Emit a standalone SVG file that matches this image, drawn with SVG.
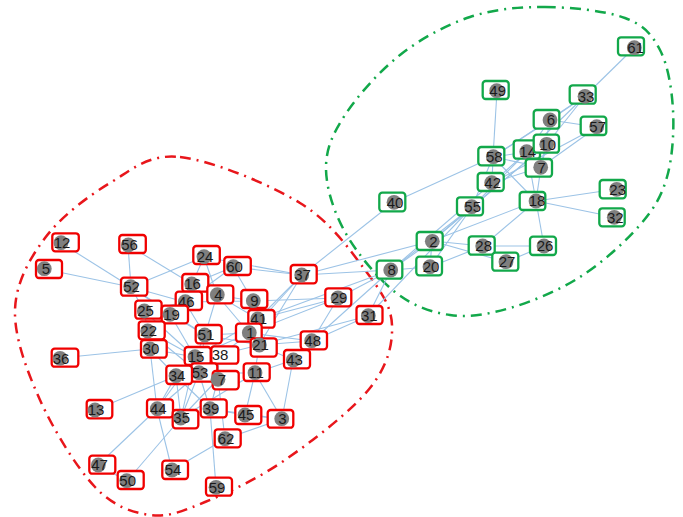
<svg xmlns="http://www.w3.org/2000/svg" width="683" height="517" viewBox="0 0 683 517">
<style>
.e line{stroke:#9cc3e6;stroke-width:1.1;}
.r rect{fill:#fff;stroke:#f00000;stroke-width:2.3;}
.g rect{fill:#fff;stroke:#12a84a;stroke-width:2.3;}
circle{fill:#7f7f7f;}
text{font-family:"Liberation Sans",Arial,sans-serif;font-size:15px;fill:#1a1a1a;text-anchor:middle;}
.hull{fill:none;stroke-width:2.5;stroke-dasharray:11 6 2 6;}
</style>
<rect width="683" height="517" fill="#fff"/>
<path class="hull" stroke="#e8161b" d="M180,157 C211.7,160.3 269.2,184.2 300,203 C330.8,221.8 349.7,249.7 365,270 C380.3,290.3 391.2,305.3 392,325 C392.8,344.7 387.8,365.5 370,388 C352.2,410.5 312.5,441 285,460 C257.5,479 227.5,492.8 205,502 C182.5,511.2 168.3,517.5 150,515 C131.7,512.5 113.3,506.2 95,487 C76.7,467.8 53.3,429.5 40,400 C26.7,370.5 14.2,337 15,310 C15.8,283 29.2,259.2 45,238 C60.8,216.8 87.5,196.5 110,183 C132.5,169.5 148.3,153.7 180,157 Z"/>
<path class="hull" stroke="#12a84a" d="M545,7 C570.8,7.2 605.8,10.8 625,18 C644.2,25.2 652,34.7 660,50 C668,65.3 671.8,88.8 673,110 C674.2,131.2 672.5,157.8 667,177 C661.5,196.2 654.5,208.3 640,225 C625.5,241.7 601.7,263.2 580,277 C558.3,290.8 531.7,301.7 510,308 C488.3,314.3 469.2,317.7 450,315 C430.8,312.3 412.5,305.8 395,292 C377.5,278.2 356.5,252.7 345,232 C333.5,211.3 326,187.5 326,168 C326,148.5 332.7,133.8 345,115 C357.3,96.2 379.2,71.3 400,55 C420.8,38.7 445.8,25 470,17 C494.2,9 519.2,6.8 545,7 Z"/>
<g id="edges" class="e">
<line x1="634" y1="48" x2="585" y2="96"/>
<line x1="585" y1="96" x2="550" y2="120"/>
<line x1="585" y1="96" x2="527" y2="152"/>
<line x1="585" y1="96" x2="493" y2="157"/>
<line x1="585" y1="96" x2="547" y2="144"/>
<line x1="550" y1="120" x2="597" y2="127"/>
<line x1="550" y1="120" x2="527" y2="152"/>
<line x1="550" y1="120" x2="493" y2="157"/>
<line x1="550" y1="120" x2="541" y2="167"/>
<line x1="597" y1="127" x2="541" y2="167"/>
<line x1="597" y1="127" x2="492" y2="183"/>
<line x1="497" y1="91" x2="493" y2="157"/>
<line x1="394" y1="202" x2="493" y2="157"/>
<line x1="394" y1="202" x2="302" y2="275"/>
<line x1="493" y1="157" x2="527" y2="152"/>
<line x1="493" y1="157" x2="541" y2="167"/>
<line x1="493" y1="157" x2="536" y2="201"/>
<line x1="493" y1="157" x2="492" y2="183"/>
<line x1="493" y1="157" x2="472" y2="207"/>
<line x1="527" y1="152" x2="547" y2="144"/>
<line x1="527" y1="152" x2="541" y2="167"/>
<line x1="527" y1="152" x2="536" y2="201"/>
<line x1="527" y1="152" x2="492" y2="183"/>
<line x1="527" y1="152" x2="472" y2="207"/>
<line x1="547" y1="144" x2="541" y2="167"/>
<line x1="547" y1="144" x2="472" y2="207"/>
<line x1="547" y1="144" x2="432" y2="241"/>
<line x1="541" y1="167" x2="536" y2="201"/>
<line x1="541" y1="167" x2="492" y2="183"/>
<line x1="536" y1="201" x2="617" y2="189"/>
<line x1="536" y1="201" x2="614" y2="217"/>
<line x1="536" y1="201" x2="544" y2="246"/>
<line x1="536" y1="201" x2="483" y2="246"/>
<line x1="536" y1="201" x2="432" y2="241"/>
<line x1="432" y1="241" x2="483" y2="246"/>
<line x1="432" y1="241" x2="506" y2="262"/>
<line x1="432" y1="241" x2="472" y2="207"/>
<line x1="432" y1="241" x2="430" y2="267"/>
<line x1="432" y1="241" x2="391" y2="270"/>
<line x1="432" y1="241" x2="302" y2="275"/>
<line x1="483" y1="246" x2="544" y2="246"/>
<line x1="483" y1="246" x2="506" y2="262"/>
<line x1="506" y1="262" x2="544" y2="246"/>
<line x1="430" y1="267" x2="483" y2="246"/>
<line x1="430" y1="267" x2="391" y2="270"/>
<line x1="430" y1="267" x2="472" y2="207"/>
<line x1="391" y1="270" x2="472" y2="207"/>
<line x1="391" y1="270" x2="492" y2="183"/>
<line x1="391" y1="270" x2="302" y2="275"/>
<line x1="391" y1="270" x2="338" y2="298"/>
<line x1="391" y1="270" x2="368" y2="316"/>
<line x1="391" y1="270" x2="312" y2="341"/>
<line x1="391" y1="270" x2="258" y2="319"/>
<line x1="472" y1="207" x2="368" y2="316"/>
<line x1="61" y1="243" x2="131" y2="287"/>
<line x1="44" y1="269" x2="131" y2="287"/>
<line x1="128" y1="245" x2="131" y2="287"/>
<line x1="128" y1="245" x2="192" y2="284"/>
<line x1="131" y1="287" x2="204" y2="257"/>
<line x1="131" y1="287" x2="185" y2="302"/>
<line x1="131" y1="287" x2="170" y2="314"/>
<line x1="131" y1="287" x2="144" y2="311"/>
<line x1="131" y1="287" x2="205" y2="335"/>
<line x1="204" y1="257" x2="192" y2="284"/>
<line x1="204" y1="257" x2="217" y2="295"/>
<line x1="204" y1="257" x2="302" y2="275"/>
<line x1="233" y1="267" x2="302" y2="275"/>
<line x1="233" y1="267" x2="192" y2="284"/>
<line x1="233" y1="267" x2="185" y2="302"/>
<line x1="233" y1="267" x2="253" y2="301"/>
<line x1="192" y1="284" x2="185" y2="302"/>
<line x1="192" y1="284" x2="170" y2="314"/>
<line x1="185" y1="302" x2="253" y2="301"/>
<line x1="185" y1="302" x2="170" y2="314"/>
<line x1="185" y1="302" x2="144" y2="311"/>
<line x1="185" y1="302" x2="205" y2="335"/>
<line x1="217" y1="295" x2="253" y2="301"/>
<line x1="217" y1="295" x2="205" y2="335"/>
<line x1="217" y1="295" x2="249" y2="333"/>
<line x1="217" y1="295" x2="258" y2="319"/>
<line x1="253" y1="301" x2="258" y2="319"/>
<line x1="253" y1="301" x2="338" y2="298"/>
<line x1="258" y1="319" x2="302" y2="275"/>
<line x1="258" y1="319" x2="338" y2="298"/>
<line x1="258" y1="319" x2="249" y2="333"/>
<line x1="258" y1="319" x2="195" y2="357"/>
<line x1="249" y1="333" x2="302" y2="275"/>
<line x1="249" y1="333" x2="259" y2="345"/>
<line x1="249" y1="333" x2="312" y2="341"/>
<line x1="249" y1="333" x2="338" y2="298"/>
<line x1="249" y1="333" x2="205" y2="335"/>
<line x1="249" y1="333" x2="195" y2="357"/>
<line x1="249" y1="333" x2="199" y2="373"/>
<line x1="259" y1="345" x2="302" y2="275"/>
<line x1="259" y1="345" x2="312" y2="341"/>
<line x1="259" y1="345" x2="293" y2="360"/>
<line x1="259" y1="345" x2="255" y2="373"/>
<line x1="259" y1="345" x2="368" y2="316"/>
<line x1="259" y1="345" x2="205" y2="335"/>
<line x1="259" y1="345" x2="219" y2="355"/>
<line x1="312" y1="341" x2="338" y2="298"/>
<line x1="312" y1="341" x2="368" y2="316"/>
<line x1="312" y1="341" x2="293" y2="360"/>
<line x1="293" y1="360" x2="255" y2="373"/>
<line x1="293" y1="360" x2="282" y2="419"/>
<line x1="255" y1="373" x2="282" y2="419"/>
<line x1="255" y1="373" x2="245" y2="415"/>
<line x1="255" y1="373" x2="199" y2="373"/>
<line x1="255" y1="373" x2="181" y2="418"/>
<line x1="170" y1="314" x2="205" y2="335"/>
<line x1="170" y1="314" x2="148" y2="331"/>
<line x1="170" y1="314" x2="150" y2="349"/>
<line x1="170" y1="314" x2="195" y2="357"/>
<line x1="144" y1="311" x2="148" y2="331"/>
<line x1="144" y1="311" x2="195" y2="357"/>
<line x1="148" y1="331" x2="150" y2="349"/>
<line x1="148" y1="331" x2="195" y2="357"/>
<line x1="148" y1="331" x2="199" y2="373"/>
<line x1="150" y1="349" x2="60" y2="358"/>
<line x1="150" y1="349" x2="157" y2="409"/>
<line x1="150" y1="349" x2="195" y2="357"/>
<line x1="150" y1="349" x2="176" y2="376"/>
<line x1="205" y1="335" x2="195" y2="357"/>
<line x1="205" y1="335" x2="199" y2="373"/>
<line x1="195" y1="357" x2="176" y2="376"/>
<line x1="195" y1="357" x2="199" y2="373"/>
<line x1="195" y1="357" x2="181" y2="418"/>
<line x1="195" y1="357" x2="157" y2="409"/>
<line x1="219" y1="355" x2="199" y2="373"/>
<line x1="219" y1="355" x2="218" y2="379"/>
<line x1="176" y1="376" x2="95" y2="410"/>
<line x1="176" y1="376" x2="157" y2="409"/>
<line x1="176" y1="376" x2="181" y2="418"/>
<line x1="176" y1="376" x2="210" y2="409"/>
<line x1="199" y1="373" x2="181" y2="418"/>
<line x1="199" y1="373" x2="210" y2="409"/>
<line x1="199" y1="373" x2="218" y2="379"/>
<line x1="199" y1="373" x2="157" y2="409"/>
<line x1="218" y1="379" x2="210" y2="409"/>
<line x1="218" y1="379" x2="225" y2="439"/>
<line x1="218" y1="379" x2="181" y2="418"/>
<line x1="157" y1="409" x2="98" y2="465"/>
<line x1="157" y1="409" x2="172" y2="470"/>
<line x1="157" y1="409" x2="181" y2="418"/>
<line x1="181" y1="418" x2="127" y2="481"/>
<line x1="181" y1="418" x2="210" y2="409"/>
<line x1="210" y1="409" x2="245" y2="415"/>
<line x1="210" y1="409" x2="282" y2="419"/>
<line x1="210" y1="409" x2="216" y2="487"/>
<line x1="225" y1="439" x2="172" y2="470"/>
<line x1="225" y1="439" x2="282" y2="419"/>
<line x1="245" y1="415" x2="282" y2="419"/>
<line x1="98" y1="465" x2="127" y2="481"/>
</g>
<g id="n12" class="r"><rect x="52.3" y="233.3" width="26.5" height="18" rx="3"/><circle cx="61" cy="242.7" r="7.4"/><text x="62" y="248">12</text></g>
<g id="n5" class="r"><rect x="36" y="260" width="26" height="18" rx="3"/><circle cx="44.3" cy="268.7" r="7.4"/><text x="46" y="274">5</text></g>
<g id="n56" class="r"><rect x="119.3" y="235" width="26.5" height="18" rx="3"/><circle cx="128.3" cy="245" r="7.4"/><text x="129.5" y="250.3">56</text></g>
<g id="n24" class="r"><rect x="193.3" y="246" width="26.5" height="18" rx="3"/><circle cx="204" cy="256.7" r="7.4"/><text x="205" y="262">24</text></g>
<g id="n60" class="r"><rect x="224.3" y="257" width="26.5" height="18" rx="3"/><circle cx="233.3" cy="266.7" r="7.4"/><text x="234.5" y="272">60</text></g>
<g id="n37" class="r"><rect x="290.7" y="265" width="26" height="18.3" rx="3"/><circle cx="301.7" cy="275" r="7.4"/><text x="302.5" y="280.3">37</text></g>
<g id="n52" class="r"><rect x="121" y="277.7" width="26.3" height="18" rx="3"/><circle cx="130.7" cy="286.7" r="7.4"/><text x="131.5" y="292">52</text></g>
<g id="n16" class="r"><rect x="182.3" y="274" width="26" height="17.7" rx="3"/><circle cx="191.7" cy="284" r="7.4"/><text x="192.5" y="289.3">16</text></g>
<g id="n4" class="r"><rect x="207.3" y="285.3" width="26" height="18" rx="3"/><circle cx="217.3" cy="294.7" r="7.4"/><text x="218.3" y="300">4</text></g>
<g id="n9" class="r"><rect x="241.3" y="290" width="26" height="18" rx="3"/><circle cx="253.3" cy="300.7" r="7.4"/><text x="254.5" y="306">9</text></g>
<g id="n29" class="r"><rect x="325.3" y="288.3" width="26" height="18" rx="3"/><circle cx="338" cy="298" r="7.4"/><text x="339" y="303.3">29</text></g>
<g id="n46" class="r"><rect x="175.7" y="291.7" width="26.3" height="18.3" rx="3"/><circle cx="185.3" cy="301.7" r="7.4"/><text x="186.3" y="307">46</text></g>
<g id="n25" class="r"><rect x="135.3" y="300.7" width="26.3" height="18" rx="3"/><circle cx="144.3" cy="311" r="7.4"/><text x="145.5" y="316.3">25</text></g>
<g id="n19" class="r"><rect x="161.7" y="305.7" width="26.3" height="17.7" rx="3"/><circle cx="170" cy="314.3" r="7.4"/><text x="171.5" y="319.6">19</text></g>
<g id="n41" class="r"><rect x="248.3" y="310" width="26.3" height="17.7" rx="3"/><circle cx="257.7" cy="319" r="7.4"/><text x="258.7" y="324.3">41</text></g>
<g id="n31" class="r"><rect x="356.5" y="306" width="26" height="18" rx="3"/><circle cx="368.3" cy="315.7" r="7.4"/><text x="369.3" y="321">31</text></g>
<g id="n22" class="r"><rect x="138.7" y="321.3" width="26" height="18" rx="3"/><circle cx="147.7" cy="331" r="7.4"/><text x="148.7" y="336.3">22</text></g>
<g id="n51" class="r"><rect x="195.7" y="325" width="26" height="18.3" rx="3"/><circle cx="204.7" cy="335" r="7.4"/><text x="206" y="340.3">51</text></g>
<g id="n1" class="r"><rect x="236" y="323.7" width="25.7" height="18" rx="3"/><circle cx="249.3" cy="332.7" r="7.4"/><text x="250.3" y="338">1</text></g>
<g id="n21" class="r"><rect x="250.7" y="338.3" width="26" height="18.3" rx="3"/><circle cx="259.3" cy="345" r="7.4"/><text x="260.5" y="350.3">21</text></g>
<g id="n48" class="r"><rect x="300.7" y="331.3" width="26.3" height="18" rx="3"/><circle cx="311.7" cy="340.7" r="7.4"/><text x="312.7" y="346">48</text></g>
<g id="n30" class="r"><rect x="141" y="340" width="25.7" height="17.7" rx="3"/><circle cx="150" cy="349" r="7.4"/><text x="151" y="354.3">30</text></g>
<g id="n36" class="r"><rect x="51.7" y="348.7" width="26.6" height="18" rx="3"/><circle cx="60" cy="358.3" r="7.4"/><text x="61" y="363.6">36</text></g>
<g id="n43" class="r"><rect x="284" y="350" width="26" height="18.3" rx="3"/><circle cx="293.3" cy="360" r="7.4"/><text x="294.5" y="365.3">43</text></g>
<g id="n15" class="r"><rect x="184.7" y="347" width="26" height="18" rx="3"/><circle cx="195" cy="356.7" r="7.4"/><text x="196" y="362">15</text></g>
<g id="n38" class="r"><rect x="211.3" y="346.3" width="27" height="17.4" rx="3"/><text x="220" y="360.3">38</text></g>
<g id="n11" class="r"><rect x="243.7" y="363.3" width="26" height="17.7" rx="3"/><circle cx="255" cy="372.7" r="7.4"/><text x="256" y="378">11</text></g>
<g id="n53" class="r"><rect x="191.3" y="363.3" width="26" height="18.4" rx="3"/><circle cx="199" cy="372.7" r="7.4"/><text x="200" y="378">53</text></g>
<g id="n34" class="r"><rect x="166.3" y="365.7" width="25.7" height="18.3" rx="3"/><circle cx="176" cy="375.7" r="7.4"/><text x="177" y="381">34</text></g>
<g id="n17" class="r"><rect x="212.7" y="371" width="26" height="18.3" rx="3"/><circle cx="218" cy="379.3" r="7.4"/><text x="222" y="384.6">7</text></g>
<g id="n13" class="r"><rect x="86.7" y="400" width="25.6" height="18.3" rx="3"/><circle cx="95" cy="410" r="7.4"/><text x="96" y="415.3">13</text></g>
<g id="n44" class="r"><rect x="147" y="399.3" width="26" height="18" rx="3"/><circle cx="157.3" cy="408.7" r="7.4"/><text x="158.3" y="414">44</text></g>
<g id="n39" class="r"><rect x="200.7" y="399.3" width="26" height="18" rx="3"/><circle cx="210" cy="408.7" r="7.4"/><text x="211" y="414">39</text></g>
<g id="n35" class="r"><rect x="172.7" y="410" width="25.6" height="18.3" rx="3"/><circle cx="180.7" cy="418" r="7.4"/><text x="181.7" y="423.3">35</text></g>
<g id="n45" class="r"><rect x="235.3" y="406" width="26" height="18" rx="3"/><circle cx="245" cy="415" r="7.4"/><text x="246" y="420.3">45</text></g>
<g id="n3" class="r"><rect x="267.7" y="410" width="25.6" height="17.7" rx="3"/><circle cx="281.7" cy="418.7" r="7.4"/><text x="282.3" y="424">3</text></g>
<g id="n62" class="r"><rect x="214.7" y="429.3" width="26" height="18" rx="3"/><circle cx="225" cy="438.7" r="7.4"/><text x="226" y="444">62</text></g>
<g id="n47" class="r"><rect x="89.3" y="455.7" width="26" height="18" rx="3"/><circle cx="98.3" cy="465" r="7.4"/><text x="99.5" y="470.3">47</text></g>
<g id="n50" class="r"><rect x="117.7" y="471" width="26" height="18" rx="3"/><circle cx="126.7" cy="480.7" r="7.4"/><text x="127.7" y="486">50</text></g>
<g id="n54" class="r"><rect x="162.3" y="460.7" width="25.7" height="18.3" rx="3"/><circle cx="172" cy="470" r="7.4"/><text x="173" y="475.3">54</text></g>
<g id="n59" class="r"><rect x="206" y="477.7" width="26" height="18" rx="3"/><circle cx="216" cy="487.3" r="7.4"/><text x="217" y="492.6">59</text></g>
<g id="n61" class="g"><rect x="618" y="37.3" width="26" height="18" rx="3"/><circle cx="634.3" cy="47.7" r="7.4"/><text x="635.5" y="53">61</text></g>
<g id="n49" class="g"><rect x="482.7" y="81" width="26" height="18" rx="3"/><circle cx="496.7" cy="90.7" r="7.4"/><text x="497.7" y="96">49</text></g>
<g id="n33" class="g"><rect x="569.7" y="85.3" width="26" height="18.4" rx="3"/><circle cx="585" cy="96.3" r="7.4"/><text x="586" y="101.6">33</text></g>
<g id="n6" class="g"><rect x="533.7" y="110" width="25.6" height="18.7" rx="3"/><circle cx="550" cy="120" r="7.4"/><text x="551" y="125.3">6</text></g>
<g id="n57" class="g"><rect x="580.7" y="116.7" width="25.6" height="18.3" rx="3"/><circle cx="596.7" cy="126.7" r="7.4"/><text x="597.7" y="132">57</text></g>
<g id="n14" class="g"><rect x="513.7" y="140.3" width="26.3" height="18.4" rx="3"/><circle cx="526.7" cy="151.7" r="7.4"/><text x="527.7" y="157">14</text></g>
<g id="n10" class="g"><rect x="533.7" y="134.7" width="25.3" height="18" rx="3"/><circle cx="546.7" cy="144.3" r="7.4"/><text x="547.7" y="149.6">10</text></g>
<g id="n58" class="g"><rect x="478.3" y="147" width="26" height="18.3" rx="3"/><circle cx="493.3" cy="156.7" r="7.4"/><text x="494.3" y="162">58</text></g>
<g id="n7" class="g"><rect x="525.7" y="159" width="26.3" height="17.7" rx="3"/><circle cx="540.7" cy="167.3" r="7.4"/><text x="541.7" y="172.6">7</text></g>
<g id="n42" class="g"><rect x="477.7" y="173" width="26" height="18" rx="3"/><circle cx="491.7" cy="182.7" r="7.4"/><text x="492.7" y="188">42</text></g>
<g id="n23" class="g"><rect x="599.7" y="180" width="26" height="18.3" rx="3"/><circle cx="616.7" cy="189.3" r="7.4"/><text x="617.7" y="194.6">23</text></g>
<g id="n40" class="g"><rect x="379.3" y="192.7" width="26" height="18.6" rx="3"/><circle cx="394" cy="202.3" r="7.4"/><text x="395" y="207.6">40</text></g>
<g id="n18" class="g"><rect x="519.7" y="192" width="25.6" height="18" rx="3"/><circle cx="536" cy="201" r="7.4"/><text x="537" y="206.3">18</text></g>
<g id="n55" class="g"><rect x="457" y="197.3" width="26" height="18" rx="3"/><circle cx="471.7" cy="206.7" r="7.4"/><text x="472.7" y="212">55</text></g>
<g id="n32" class="g"><rect x="599.3" y="208.3" width="25.4" height="18" rx="3"/><circle cx="614.3" cy="217.3" r="7.4"/><text x="615.3" y="222.6">32</text></g>
<g id="n2" class="g"><rect x="416.7" y="232" width="26" height="18" rx="3"/><circle cx="432.3" cy="241.3" r="7.4"/><text x="433.3" y="246.6">2</text></g>
<g id="n28" class="g"><rect x="468.7" y="236.3" width="26" height="18.4" rx="3"/><circle cx="482.7" cy="246" r="7.4"/><text x="483.7" y="251.3">28</text></g>
<g id="n26" class="g"><rect x="530" y="236.7" width="26" height="18.3" rx="3"/><circle cx="544" cy="246" r="7.4"/><text x="545" y="251.3">26</text></g>
<g id="n27" class="g"><rect x="492.3" y="252.7" width="26" height="18" rx="3"/><circle cx="506" cy="261.7" r="7.4"/><text x="507" y="267">27</text></g>
<g id="n20" class="g"><rect x="416.3" y="256.7" width="25.7" height="18.6" rx="3"/><circle cx="430" cy="266.7" r="7.4"/><text x="431" y="272">20</text></g>
<g id="n8" class="g"><rect x="376.7" y="260.7" width="25.6" height="18" rx="3"/><circle cx="390.7" cy="270" r="7.4"/><text x="391.7" y="275.3">8</text></g>
</svg>
